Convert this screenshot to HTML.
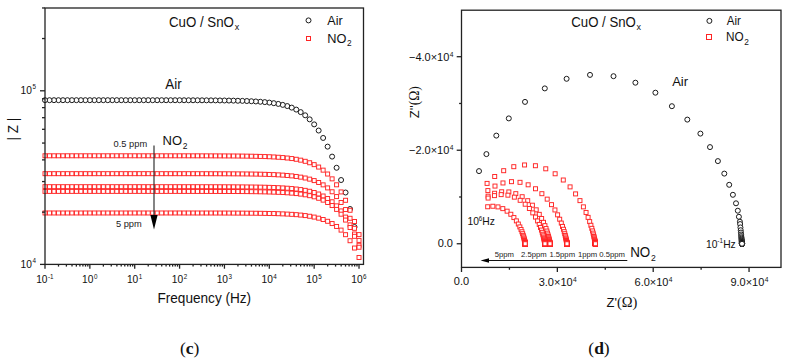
<!DOCTYPE html>
<html><head><meta charset="utf-8"><title>CuO/SnOx impedance</title>
<style>html,body{margin:0;padding:0;background:#fff;}body{width:790px;height:364px;overflow:hidden;}svg{display:block;}</style>
</head><body>
<svg width="790" height="364" viewBox="0 0 790 364">
<rect width="790" height="364" fill="#fff"/>
<g fill="#fff" stroke="#1a1a1a" stroke-width="1.0">
<circle cx="354.53" cy="227.00" r="2.5"/>
<circle cx="350.05" cy="209.00" r="2.5"/>
<circle cx="345.56" cy="192.50" r="2.5"/>
<circle cx="341.08" cy="180.03" r="2.5"/>
<circle cx="336.59" cy="167.77" r="2.5"/>
<circle cx="332.10" cy="156.60" r="2.5"/>
<circle cx="327.62" cy="146.63" r="2.5"/>
<circle cx="323.13" cy="137.94" r="2.5"/>
<circle cx="318.65" cy="130.54" r="2.5"/>
<circle cx="314.16" cy="124.38" r="2.5"/>
<circle cx="309.67" cy="119.35" r="2.5"/>
<circle cx="305.19" cy="115.31" r="2.5"/>
<circle cx="300.70" cy="112.10" r="2.5"/>
<circle cx="296.22" cy="109.58" r="2.5"/>
<circle cx="291.73" cy="107.61" r="2.5"/>
<circle cx="287.24" cy="106.06" r="2.5"/>
<circle cx="282.76" cy="104.86" r="2.5"/>
<circle cx="278.27" cy="103.91" r="2.5"/>
<circle cx="273.79" cy="103.17" r="2.5"/>
<circle cx="269.30" cy="102.59" r="2.5"/>
<circle cx="264.81" cy="102.12" r="2.5"/>
<circle cx="260.33" cy="101.75" r="2.5"/>
<circle cx="255.84" cy="101.46" r="2.5"/>
<circle cx="251.36" cy="101.22" r="2.5"/>
<circle cx="246.87" cy="101.03" r="2.5"/>
<circle cx="242.38" cy="100.87" r="2.5"/>
<circle cx="237.90" cy="100.75" r="2.5"/>
<circle cx="233.41" cy="100.64" r="2.5"/>
<circle cx="228.93" cy="100.56" r="2.5"/>
<circle cx="224.44" cy="100.49" r="2.5"/>
<circle cx="219.95" cy="100.44" r="2.5"/>
<circle cx="215.47" cy="100.39" r="2.5"/>
<circle cx="210.98" cy="100.35" r="2.5"/>
<circle cx="206.50" cy="100.32" r="2.5"/>
<circle cx="202.01" cy="100.30" r="2.5"/>
<circle cx="197.52" cy="100.28" r="2.5"/>
<circle cx="193.04" cy="100.26" r="2.5"/>
<circle cx="188.55" cy="100.25" r="2.5"/>
<circle cx="184.07" cy="100.24" r="2.5"/>
<circle cx="179.58" cy="100.23" r="2.5"/>
<circle cx="175.09" cy="100.22" r="2.5"/>
<circle cx="170.61" cy="100.21" r="2.5"/>
<circle cx="166.12" cy="100.21" r="2.5"/>
<circle cx="161.64" cy="100.20" r="2.5"/>
<circle cx="157.15" cy="100.20" r="2.5"/>
<circle cx="152.66" cy="100.20" r="2.5"/>
<circle cx="148.18" cy="100.19" r="2.5"/>
<circle cx="143.69" cy="100.19" r="2.5"/>
<circle cx="139.21" cy="100.19" r="2.5"/>
<circle cx="134.72" cy="100.19" r="2.5"/>
<circle cx="130.23" cy="100.19" r="2.5"/>
<circle cx="125.75" cy="100.19" r="2.5"/>
<circle cx="121.26" cy="100.18" r="2.5"/>
<circle cx="116.78" cy="100.18" r="2.5"/>
<circle cx="112.29" cy="100.18" r="2.5"/>
<circle cx="107.80" cy="100.18" r="2.5"/>
<circle cx="103.32" cy="100.18" r="2.5"/>
<circle cx="98.83" cy="100.18" r="2.5"/>
<circle cx="94.35" cy="100.18" r="2.5"/>
<circle cx="89.86" cy="100.18" r="2.5"/>
<circle cx="85.37" cy="100.18" r="2.5"/>
<circle cx="80.89" cy="100.18" r="2.5"/>
<circle cx="76.40" cy="100.18" r="2.5"/>
<circle cx="71.92" cy="100.18" r="2.5"/>
<circle cx="67.43" cy="100.18" r="2.5"/>
<circle cx="62.94" cy="100.18" r="2.5"/>
<circle cx="58.46" cy="100.18" r="2.5"/>
<circle cx="53.97" cy="100.18" r="2.5"/>
<circle cx="49.49" cy="100.18" r="2.5"/>
<circle cx="45.00" cy="100.18" r="2.5"/>
</g>
<g fill="#fff" stroke="#ff2424" stroke-width="0.95">
<rect x="357.02" y="232.61" width="4.0" height="4.0"/>
<rect x="352.53" y="219.48" width="4.0" height="4.0"/>
<rect x="348.05" y="208.27" width="4.0" height="4.0"/>
<rect x="343.56" y="198.29" width="4.0" height="4.0"/>
<rect x="339.08" y="189.93" width="4.0" height="4.0"/>
<rect x="334.59" y="182.80" width="4.0" height="4.0"/>
<rect x="330.10" y="176.86" width="4.0" height="4.0"/>
<rect x="325.62" y="172.02" width="4.0" height="4.0"/>
<rect x="321.13" y="168.14" width="4.0" height="4.0"/>
<rect x="316.65" y="165.06" width="4.0" height="4.0"/>
<rect x="312.16" y="162.65" width="4.0" height="4.0"/>
<rect x="307.67" y="160.76" width="4.0" height="4.0"/>
<rect x="303.19" y="159.30" width="4.0" height="4.0"/>
<rect x="298.70" y="158.16" width="4.0" height="4.0"/>
<rect x="294.22" y="157.27" width="4.0" height="4.0"/>
<rect x="289.73" y="156.57" width="4.0" height="4.0"/>
<rect x="285.24" y="156.02" width="4.0" height="4.0"/>
<rect x="280.76" y="155.58" width="4.0" height="4.0"/>
<rect x="276.27" y="155.24" width="4.0" height="4.0"/>
<rect x="271.79" y="154.96" width="4.0" height="4.0"/>
<rect x="267.30" y="154.74" width="4.0" height="4.0"/>
<rect x="262.81" y="154.57" width="4.0" height="4.0"/>
<rect x="258.33" y="154.42" width="4.0" height="4.0"/>
<rect x="253.84" y="154.31" width="4.0" height="4.0"/>
<rect x="249.36" y="154.21" width="4.0" height="4.0"/>
<rect x="244.87" y="154.14" width="4.0" height="4.0"/>
<rect x="240.38" y="154.08" width="4.0" height="4.0"/>
<rect x="235.90" y="154.02" width="4.0" height="4.0"/>
<rect x="231.41" y="153.98" width="4.0" height="4.0"/>
<rect x="226.93" y="153.95" width="4.0" height="4.0"/>
<rect x="222.44" y="153.92" width="4.0" height="4.0"/>
<rect x="217.95" y="153.90" width="4.0" height="4.0"/>
<rect x="213.47" y="153.88" width="4.0" height="4.0"/>
<rect x="208.98" y="153.86" width="4.0" height="4.0"/>
<rect x="204.50" y="153.85" width="4.0" height="4.0"/>
<rect x="200.01" y="153.84" width="4.0" height="4.0"/>
<rect x="195.52" y="153.83" width="4.0" height="4.0"/>
<rect x="191.04" y="153.83" width="4.0" height="4.0"/>
<rect x="186.55" y="153.82" width="4.0" height="4.0"/>
<rect x="182.07" y="153.81" width="4.0" height="4.0"/>
<rect x="177.58" y="153.81" width="4.0" height="4.0"/>
<rect x="173.09" y="153.81" width="4.0" height="4.0"/>
<rect x="168.61" y="153.80" width="4.0" height="4.0"/>
<rect x="164.12" y="153.80" width="4.0" height="4.0"/>
<rect x="159.64" y="153.80" width="4.0" height="4.0"/>
<rect x="155.15" y="153.80" width="4.0" height="4.0"/>
<rect x="150.66" y="153.80" width="4.0" height="4.0"/>
<rect x="146.18" y="153.80" width="4.0" height="4.0"/>
<rect x="141.69" y="153.80" width="4.0" height="4.0"/>
<rect x="137.21" y="153.80" width="4.0" height="4.0"/>
<rect x="132.72" y="153.79" width="4.0" height="4.0"/>
<rect x="128.23" y="153.79" width="4.0" height="4.0"/>
<rect x="123.75" y="153.79" width="4.0" height="4.0"/>
<rect x="119.26" y="153.79" width="4.0" height="4.0"/>
<rect x="114.78" y="153.79" width="4.0" height="4.0"/>
<rect x="110.29" y="153.79" width="4.0" height="4.0"/>
<rect x="105.80" y="153.79" width="4.0" height="4.0"/>
<rect x="101.32" y="153.79" width="4.0" height="4.0"/>
<rect x="96.83" y="153.79" width="4.0" height="4.0"/>
<rect x="92.35" y="153.79" width="4.0" height="4.0"/>
<rect x="87.86" y="153.79" width="4.0" height="4.0"/>
<rect x="83.37" y="153.79" width="4.0" height="4.0"/>
<rect x="78.89" y="153.79" width="4.0" height="4.0"/>
<rect x="74.40" y="153.79" width="4.0" height="4.0"/>
<rect x="69.92" y="153.79" width="4.0" height="4.0"/>
<rect x="65.43" y="153.79" width="4.0" height="4.0"/>
<rect x="60.94" y="153.79" width="4.0" height="4.0"/>
<rect x="56.46" y="153.79" width="4.0" height="4.0"/>
<rect x="51.97" y="153.79" width="4.0" height="4.0"/>
<rect x="47.49" y="153.79" width="4.0" height="4.0"/>
<rect x="43.00" y="153.79" width="4.0" height="4.0"/>
<rect x="357.02" y="238.40" width="4.0" height="4.0"/>
<rect x="352.53" y="226.32" width="4.0" height="4.0"/>
<rect x="348.05" y="216.28" width="4.0" height="4.0"/>
<rect x="343.56" y="207.56" width="4.0" height="4.0"/>
<rect x="339.08" y="200.48" width="4.0" height="4.0"/>
<rect x="334.59" y="194.58" width="4.0" height="4.0"/>
<rect x="330.10" y="189.77" width="4.0" height="4.0"/>
<rect x="325.62" y="185.91" width="4.0" height="4.0"/>
<rect x="321.13" y="182.86" width="4.0" height="4.0"/>
<rect x="316.65" y="180.47" width="4.0" height="4.0"/>
<rect x="312.16" y="178.60" width="4.0" height="4.0"/>
<rect x="307.67" y="177.14" width="4.0" height="4.0"/>
<rect x="303.19" y="176.01" width="4.0" height="4.0"/>
<rect x="298.70" y="175.13" width="4.0" height="4.0"/>
<rect x="294.22" y="174.44" width="4.0" height="4.0"/>
<rect x="289.73" y="173.89" width="4.0" height="4.0"/>
<rect x="285.24" y="173.46" width="4.0" height="4.0"/>
<rect x="280.76" y="173.12" width="4.0" height="4.0"/>
<rect x="276.27" y="172.85" width="4.0" height="4.0"/>
<rect x="271.79" y="172.63" width="4.0" height="4.0"/>
<rect x="267.30" y="172.45" width="4.0" height="4.0"/>
<rect x="262.81" y="172.31" width="4.0" height="4.0"/>
<rect x="258.33" y="172.19" width="4.0" height="4.0"/>
<rect x="253.84" y="172.10" width="4.0" height="4.0"/>
<rect x="249.36" y="172.02" width="4.0" height="4.0"/>
<rect x="244.87" y="171.96" width="4.0" height="4.0"/>
<rect x="240.38" y="171.91" width="4.0" height="4.0"/>
<rect x="235.90" y="171.87" width="4.0" height="4.0"/>
<rect x="231.41" y="171.84" width="4.0" height="4.0"/>
<rect x="226.93" y="171.81" width="4.0" height="4.0"/>
<rect x="222.44" y="171.79" width="4.0" height="4.0"/>
<rect x="217.95" y="171.77" width="4.0" height="4.0"/>
<rect x="213.47" y="171.75" width="4.0" height="4.0"/>
<rect x="208.98" y="171.74" width="4.0" height="4.0"/>
<rect x="204.50" y="171.73" width="4.0" height="4.0"/>
<rect x="200.01" y="171.72" width="4.0" height="4.0"/>
<rect x="195.52" y="171.71" width="4.0" height="4.0"/>
<rect x="191.04" y="171.71" width="4.0" height="4.0"/>
<rect x="186.55" y="171.70" width="4.0" height="4.0"/>
<rect x="182.07" y="171.70" width="4.0" height="4.0"/>
<rect x="177.58" y="171.70" width="4.0" height="4.0"/>
<rect x="173.09" y="171.69" width="4.0" height="4.0"/>
<rect x="168.61" y="171.69" width="4.0" height="4.0"/>
<rect x="164.12" y="171.69" width="4.0" height="4.0"/>
<rect x="159.64" y="171.69" width="4.0" height="4.0"/>
<rect x="155.15" y="171.69" width="4.0" height="4.0"/>
<rect x="150.66" y="171.69" width="4.0" height="4.0"/>
<rect x="146.18" y="171.68" width="4.0" height="4.0"/>
<rect x="141.69" y="171.68" width="4.0" height="4.0"/>
<rect x="137.21" y="171.68" width="4.0" height="4.0"/>
<rect x="132.72" y="171.68" width="4.0" height="4.0"/>
<rect x="128.23" y="171.68" width="4.0" height="4.0"/>
<rect x="123.75" y="171.68" width="4.0" height="4.0"/>
<rect x="119.26" y="171.68" width="4.0" height="4.0"/>
<rect x="114.78" y="171.68" width="4.0" height="4.0"/>
<rect x="110.29" y="171.68" width="4.0" height="4.0"/>
<rect x="105.80" y="171.68" width="4.0" height="4.0"/>
<rect x="101.32" y="171.68" width="4.0" height="4.0"/>
<rect x="96.83" y="171.68" width="4.0" height="4.0"/>
<rect x="92.35" y="171.68" width="4.0" height="4.0"/>
<rect x="87.86" y="171.68" width="4.0" height="4.0"/>
<rect x="83.37" y="171.68" width="4.0" height="4.0"/>
<rect x="78.89" y="171.68" width="4.0" height="4.0"/>
<rect x="74.40" y="171.68" width="4.0" height="4.0"/>
<rect x="69.92" y="171.68" width="4.0" height="4.0"/>
<rect x="65.43" y="171.68" width="4.0" height="4.0"/>
<rect x="60.94" y="171.68" width="4.0" height="4.0"/>
<rect x="56.46" y="171.68" width="4.0" height="4.0"/>
<rect x="51.97" y="171.68" width="4.0" height="4.0"/>
<rect x="47.49" y="171.68" width="4.0" height="4.0"/>
<rect x="43.00" y="171.68" width="4.0" height="4.0"/>
<rect x="357.02" y="243.24" width="4.0" height="4.0"/>
<rect x="352.53" y="232.01" width="4.0" height="4.0"/>
<rect x="348.05" y="222.89" width="4.0" height="4.0"/>
<rect x="343.56" y="215.10" width="4.0" height="4.0"/>
<rect x="339.08" y="208.92" width="4.0" height="4.0"/>
<rect x="334.59" y="203.86" width="4.0" height="4.0"/>
<rect x="330.10" y="199.78" width="4.0" height="4.0"/>
<rect x="325.62" y="196.55" width="4.0" height="4.0"/>
<rect x="321.13" y="194.01" width="4.0" height="4.0"/>
<rect x="316.65" y="192.02" width="4.0" height="4.0"/>
<rect x="312.16" y="190.48" width="4.0" height="4.0"/>
<rect x="307.67" y="189.27" width="4.0" height="4.0"/>
<rect x="303.19" y="188.34" width="4.0" height="4.0"/>
<rect x="298.70" y="187.60" width="4.0" height="4.0"/>
<rect x="294.22" y="187.02" width="4.0" height="4.0"/>
<rect x="289.73" y="186.57" width="4.0" height="4.0"/>
<rect x="285.24" y="186.21" width="4.0" height="4.0"/>
<rect x="280.76" y="185.92" width="4.0" height="4.0"/>
<rect x="276.27" y="185.69" width="4.0" height="4.0"/>
<rect x="271.79" y="185.50" width="4.0" height="4.0"/>
<rect x="267.30" y="185.35" width="4.0" height="4.0"/>
<rect x="262.81" y="185.23" width="4.0" height="4.0"/>
<rect x="258.33" y="185.13" width="4.0" height="4.0"/>
<rect x="253.84" y="185.05" width="4.0" height="4.0"/>
<rect x="249.36" y="184.99" width="4.0" height="4.0"/>
<rect x="244.87" y="184.94" width="4.0" height="4.0"/>
<rect x="240.38" y="184.89" width="4.0" height="4.0"/>
<rect x="235.90" y="184.86" width="4.0" height="4.0"/>
<rect x="231.41" y="184.83" width="4.0" height="4.0"/>
<rect x="226.93" y="184.80" width="4.0" height="4.0"/>
<rect x="222.44" y="184.78" width="4.0" height="4.0"/>
<rect x="217.95" y="184.77" width="4.0" height="4.0"/>
<rect x="213.47" y="184.75" width="4.0" height="4.0"/>
<rect x="208.98" y="184.74" width="4.0" height="4.0"/>
<rect x="204.50" y="184.73" width="4.0" height="4.0"/>
<rect x="200.01" y="184.73" width="4.0" height="4.0"/>
<rect x="195.52" y="184.72" width="4.0" height="4.0"/>
<rect x="191.04" y="184.72" width="4.0" height="4.0"/>
<rect x="186.55" y="184.71" width="4.0" height="4.0"/>
<rect x="182.07" y="184.71" width="4.0" height="4.0"/>
<rect x="177.58" y="184.71" width="4.0" height="4.0"/>
<rect x="173.09" y="184.70" width="4.0" height="4.0"/>
<rect x="168.61" y="184.70" width="4.0" height="4.0"/>
<rect x="164.12" y="184.70" width="4.0" height="4.0"/>
<rect x="159.64" y="184.70" width="4.0" height="4.0"/>
<rect x="155.15" y="184.70" width="4.0" height="4.0"/>
<rect x="150.66" y="184.70" width="4.0" height="4.0"/>
<rect x="146.18" y="184.70" width="4.0" height="4.0"/>
<rect x="141.69" y="184.70" width="4.0" height="4.0"/>
<rect x="137.21" y="184.69" width="4.0" height="4.0"/>
<rect x="132.72" y="184.69" width="4.0" height="4.0"/>
<rect x="128.23" y="184.69" width="4.0" height="4.0"/>
<rect x="123.75" y="184.69" width="4.0" height="4.0"/>
<rect x="119.26" y="184.69" width="4.0" height="4.0"/>
<rect x="114.78" y="184.69" width="4.0" height="4.0"/>
<rect x="110.29" y="184.69" width="4.0" height="4.0"/>
<rect x="105.80" y="184.69" width="4.0" height="4.0"/>
<rect x="101.32" y="184.69" width="4.0" height="4.0"/>
<rect x="96.83" y="184.69" width="4.0" height="4.0"/>
<rect x="92.35" y="184.69" width="4.0" height="4.0"/>
<rect x="87.86" y="184.69" width="4.0" height="4.0"/>
<rect x="83.37" y="184.69" width="4.0" height="4.0"/>
<rect x="78.89" y="184.69" width="4.0" height="4.0"/>
<rect x="74.40" y="184.69" width="4.0" height="4.0"/>
<rect x="69.92" y="184.69" width="4.0" height="4.0"/>
<rect x="65.43" y="184.69" width="4.0" height="4.0"/>
<rect x="60.94" y="184.69" width="4.0" height="4.0"/>
<rect x="56.46" y="184.69" width="4.0" height="4.0"/>
<rect x="51.97" y="184.69" width="4.0" height="4.0"/>
<rect x="47.49" y="184.69" width="4.0" height="4.0"/>
<rect x="43.00" y="184.69" width="4.0" height="4.0"/>
<rect x="357.02" y="245.24" width="4.0" height="4.0"/>
<rect x="352.53" y="234.32" width="4.0" height="4.0"/>
<rect x="348.05" y="225.53" width="4.0" height="4.0"/>
<rect x="343.56" y="218.06" width="4.0" height="4.0"/>
<rect x="339.08" y="212.18" width="4.0" height="4.0"/>
<rect x="334.59" y="207.39" width="4.0" height="4.0"/>
<rect x="330.10" y="203.55" width="4.0" height="4.0"/>
<rect x="325.62" y="200.51" width="4.0" height="4.0"/>
<rect x="321.13" y="198.13" width="4.0" height="4.0"/>
<rect x="316.65" y="196.27" width="4.0" height="4.0"/>
<rect x="312.16" y="194.82" width="4.0" height="4.0"/>
<rect x="307.67" y="193.69" width="4.0" height="4.0"/>
<rect x="303.19" y="192.81" width="4.0" height="4.0"/>
<rect x="298.70" y="192.12" width="4.0" height="4.0"/>
<rect x="294.22" y="191.58" width="4.0" height="4.0"/>
<rect x="289.73" y="191.15" width="4.0" height="4.0"/>
<rect x="285.24" y="190.81" width="4.0" height="4.0"/>
<rect x="280.76" y="190.54" width="4.0" height="4.0"/>
<rect x="276.27" y="190.32" width="4.0" height="4.0"/>
<rect x="271.79" y="190.15" width="4.0" height="4.0"/>
<rect x="267.30" y="190.01" width="4.0" height="4.0"/>
<rect x="262.81" y="189.89" width="4.0" height="4.0"/>
<rect x="258.33" y="189.80" width="4.0" height="4.0"/>
<rect x="253.84" y="189.72" width="4.0" height="4.0"/>
<rect x="249.36" y="189.66" width="4.0" height="4.0"/>
<rect x="244.87" y="189.61" width="4.0" height="4.0"/>
<rect x="240.38" y="189.57" width="4.0" height="4.0"/>
<rect x="235.90" y="189.54" width="4.0" height="4.0"/>
<rect x="231.41" y="189.51" width="4.0" height="4.0"/>
<rect x="226.93" y="189.49" width="4.0" height="4.0"/>
<rect x="222.44" y="189.47" width="4.0" height="4.0"/>
<rect x="217.95" y="189.45" width="4.0" height="4.0"/>
<rect x="213.47" y="189.44" width="4.0" height="4.0"/>
<rect x="208.98" y="189.43" width="4.0" height="4.0"/>
<rect x="204.50" y="189.42" width="4.0" height="4.0"/>
<rect x="200.01" y="189.41" width="4.0" height="4.0"/>
<rect x="195.52" y="189.41" width="4.0" height="4.0"/>
<rect x="191.04" y="189.40" width="4.0" height="4.0"/>
<rect x="186.55" y="189.40" width="4.0" height="4.0"/>
<rect x="182.07" y="189.40" width="4.0" height="4.0"/>
<rect x="177.58" y="189.39" width="4.0" height="4.0"/>
<rect x="173.09" y="189.39" width="4.0" height="4.0"/>
<rect x="168.61" y="189.39" width="4.0" height="4.0"/>
<rect x="164.12" y="189.39" width="4.0" height="4.0"/>
<rect x="159.64" y="189.39" width="4.0" height="4.0"/>
<rect x="155.15" y="189.39" width="4.0" height="4.0"/>
<rect x="150.66" y="189.38" width="4.0" height="4.0"/>
<rect x="146.18" y="189.38" width="4.0" height="4.0"/>
<rect x="141.69" y="189.38" width="4.0" height="4.0"/>
<rect x="137.21" y="189.38" width="4.0" height="4.0"/>
<rect x="132.72" y="189.38" width="4.0" height="4.0"/>
<rect x="128.23" y="189.38" width="4.0" height="4.0"/>
<rect x="123.75" y="189.38" width="4.0" height="4.0"/>
<rect x="119.26" y="189.38" width="4.0" height="4.0"/>
<rect x="114.78" y="189.38" width="4.0" height="4.0"/>
<rect x="110.29" y="189.38" width="4.0" height="4.0"/>
<rect x="105.80" y="189.38" width="4.0" height="4.0"/>
<rect x="101.32" y="189.38" width="4.0" height="4.0"/>
<rect x="96.83" y="189.38" width="4.0" height="4.0"/>
<rect x="92.35" y="189.38" width="4.0" height="4.0"/>
<rect x="87.86" y="189.38" width="4.0" height="4.0"/>
<rect x="83.37" y="189.38" width="4.0" height="4.0"/>
<rect x="78.89" y="189.38" width="4.0" height="4.0"/>
<rect x="74.40" y="189.38" width="4.0" height="4.0"/>
<rect x="69.92" y="189.38" width="4.0" height="4.0"/>
<rect x="65.43" y="189.38" width="4.0" height="4.0"/>
<rect x="60.94" y="189.38" width="4.0" height="4.0"/>
<rect x="56.46" y="189.38" width="4.0" height="4.0"/>
<rect x="51.97" y="189.38" width="4.0" height="4.0"/>
<rect x="47.49" y="189.38" width="4.0" height="4.0"/>
<rect x="43.00" y="189.38" width="4.0" height="4.0"/>
<rect x="357.02" y="255.48" width="4.0" height="4.0"/>
<rect x="352.53" y="246.04" width="4.0" height="4.0"/>
<rect x="348.05" y="238.73" width="4.0" height="4.0"/>
<rect x="343.56" y="232.69" width="4.0" height="4.0"/>
<rect x="339.08" y="228.11" width="4.0" height="4.0"/>
<rect x="334.59" y="224.45" width="4.0" height="4.0"/>
<rect x="330.10" y="221.56" width="4.0" height="4.0"/>
<rect x="325.62" y="219.29" width="4.0" height="4.0"/>
<rect x="321.13" y="217.53" width="4.0" height="4.0"/>
<rect x="316.65" y="216.16" width="4.0" height="4.0"/>
<rect x="312.16" y="215.09" width="4.0" height="4.0"/>
<rect x="307.67" y="214.25" width="4.0" height="4.0"/>
<rect x="303.19" y="213.59" width="4.0" height="4.0"/>
<rect x="298.70" y="213.08" width="4.0" height="4.0"/>
<rect x="294.22" y="212.67" width="4.0" height="4.0"/>
<rect x="289.73" y="212.34" width="4.0" height="4.0"/>
<rect x="285.24" y="212.09" width="4.0" height="4.0"/>
<rect x="280.76" y="211.88" width="4.0" height="4.0"/>
<rect x="276.27" y="211.71" width="4.0" height="4.0"/>
<rect x="271.79" y="211.57" width="4.0" height="4.0"/>
<rect x="267.30" y="211.47" width="4.0" height="4.0"/>
<rect x="262.81" y="211.38" width="4.0" height="4.0"/>
<rect x="258.33" y="211.30" width="4.0" height="4.0"/>
<rect x="253.84" y="211.24" width="4.0" height="4.0"/>
<rect x="249.36" y="211.20" width="4.0" height="4.0"/>
<rect x="244.87" y="211.16" width="4.0" height="4.0"/>
<rect x="240.38" y="211.12" width="4.0" height="4.0"/>
<rect x="235.90" y="211.10" width="4.0" height="4.0"/>
<rect x="231.41" y="211.08" width="4.0" height="4.0"/>
<rect x="226.93" y="211.06" width="4.0" height="4.0"/>
<rect x="222.44" y="211.04" width="4.0" height="4.0"/>
<rect x="217.95" y="211.03" width="4.0" height="4.0"/>
<rect x="213.47" y="211.02" width="4.0" height="4.0"/>
<rect x="208.98" y="211.01" width="4.0" height="4.0"/>
<rect x="204.50" y="211.01" width="4.0" height="4.0"/>
<rect x="200.01" y="211.00" width="4.0" height="4.0"/>
<rect x="195.52" y="211.00" width="4.0" height="4.0"/>
<rect x="191.04" y="210.99" width="4.0" height="4.0"/>
<rect x="186.55" y="210.99" width="4.0" height="4.0"/>
<rect x="182.07" y="210.99" width="4.0" height="4.0"/>
<rect x="177.58" y="210.98" width="4.0" height="4.0"/>
<rect x="173.09" y="210.98" width="4.0" height="4.0"/>
<rect x="168.61" y="210.98" width="4.0" height="4.0"/>
<rect x="164.12" y="210.98" width="4.0" height="4.0"/>
<rect x="159.64" y="210.98" width="4.0" height="4.0"/>
<rect x="155.15" y="210.98" width="4.0" height="4.0"/>
<rect x="150.66" y="210.98" width="4.0" height="4.0"/>
<rect x="146.18" y="210.98" width="4.0" height="4.0"/>
<rect x="141.69" y="210.98" width="4.0" height="4.0"/>
<rect x="137.21" y="210.98" width="4.0" height="4.0"/>
<rect x="132.72" y="210.98" width="4.0" height="4.0"/>
<rect x="128.23" y="210.98" width="4.0" height="4.0"/>
<rect x="123.75" y="210.98" width="4.0" height="4.0"/>
<rect x="119.26" y="210.98" width="4.0" height="4.0"/>
<rect x="114.78" y="210.98" width="4.0" height="4.0"/>
<rect x="110.29" y="210.98" width="4.0" height="4.0"/>
<rect x="105.80" y="210.98" width="4.0" height="4.0"/>
<rect x="101.32" y="210.98" width="4.0" height="4.0"/>
<rect x="96.83" y="210.98" width="4.0" height="4.0"/>
<rect x="92.35" y="210.98" width="4.0" height="4.0"/>
<rect x="87.86" y="210.98" width="4.0" height="4.0"/>
<rect x="83.37" y="210.98" width="4.0" height="4.0"/>
<rect x="78.89" y="210.98" width="4.0" height="4.0"/>
<rect x="74.40" y="210.98" width="4.0" height="4.0"/>
<rect x="69.92" y="210.98" width="4.0" height="4.0"/>
<rect x="65.43" y="210.98" width="4.0" height="4.0"/>
<rect x="60.94" y="210.98" width="4.0" height="4.0"/>
<rect x="56.46" y="210.98" width="4.0" height="4.0"/>
<rect x="51.97" y="210.98" width="4.0" height="4.0"/>
<rect x="47.49" y="210.98" width="4.0" height="4.0"/>
<rect x="43.00" y="210.98" width="4.0" height="4.0"/>
</g>
<g stroke="#222" stroke-width="1.3" fill="none">
<rect x="45.0" y="8.0" width="318.5" height="256.4"/>
<line x1="45.00" y1="264.4" x2="45.00" y2="268.70"/>
<line x1="58.50" y1="264.4" x2="58.50" y2="266.60"/>
<line x1="66.40" y1="264.4" x2="66.40" y2="266.60"/>
<line x1="72.01" y1="264.4" x2="72.01" y2="266.60"/>
<line x1="76.36" y1="264.4" x2="76.36" y2="266.60"/>
<line x1="79.91" y1="264.4" x2="79.91" y2="266.60"/>
<line x1="82.91" y1="264.4" x2="82.91" y2="266.60"/>
<line x1="85.51" y1="264.4" x2="85.51" y2="266.60"/>
<line x1="87.81" y1="264.4" x2="87.81" y2="266.60"/>
<line x1="89.86" y1="264.4" x2="89.86" y2="268.70"/>
<line x1="103.36" y1="264.4" x2="103.36" y2="266.60"/>
<line x1="111.26" y1="264.4" x2="111.26" y2="266.60"/>
<line x1="116.87" y1="264.4" x2="116.87" y2="266.60"/>
<line x1="121.22" y1="264.4" x2="121.22" y2="266.60"/>
<line x1="124.77" y1="264.4" x2="124.77" y2="266.60"/>
<line x1="127.77" y1="264.4" x2="127.77" y2="266.60"/>
<line x1="130.37" y1="264.4" x2="130.37" y2="266.60"/>
<line x1="132.67" y1="264.4" x2="132.67" y2="266.60"/>
<line x1="134.72" y1="264.4" x2="134.72" y2="268.70"/>
<line x1="148.22" y1="264.4" x2="148.22" y2="266.60"/>
<line x1="156.12" y1="264.4" x2="156.12" y2="266.60"/>
<line x1="161.73" y1="264.4" x2="161.73" y2="266.60"/>
<line x1="166.08" y1="264.4" x2="166.08" y2="266.60"/>
<line x1="169.63" y1="264.4" x2="169.63" y2="266.60"/>
<line x1="172.63" y1="264.4" x2="172.63" y2="266.60"/>
<line x1="175.23" y1="264.4" x2="175.23" y2="266.60"/>
<line x1="177.53" y1="264.4" x2="177.53" y2="266.60"/>
<line x1="179.58" y1="264.4" x2="179.58" y2="268.70"/>
<line x1="193.08" y1="264.4" x2="193.08" y2="266.60"/>
<line x1="200.98" y1="264.4" x2="200.98" y2="266.60"/>
<line x1="206.59" y1="264.4" x2="206.59" y2="266.60"/>
<line x1="210.94" y1="264.4" x2="210.94" y2="266.60"/>
<line x1="214.49" y1="264.4" x2="214.49" y2="266.60"/>
<line x1="217.49" y1="264.4" x2="217.49" y2="266.60"/>
<line x1="220.09" y1="264.4" x2="220.09" y2="266.60"/>
<line x1="222.39" y1="264.4" x2="222.39" y2="266.60"/>
<line x1="224.44" y1="264.4" x2="224.44" y2="268.70"/>
<line x1="237.94" y1="264.4" x2="237.94" y2="266.60"/>
<line x1="245.84" y1="264.4" x2="245.84" y2="266.60"/>
<line x1="251.45" y1="264.4" x2="251.45" y2="266.60"/>
<line x1="255.80" y1="264.4" x2="255.80" y2="266.60"/>
<line x1="259.35" y1="264.4" x2="259.35" y2="266.60"/>
<line x1="262.35" y1="264.4" x2="262.35" y2="266.60"/>
<line x1="264.95" y1="264.4" x2="264.95" y2="266.60"/>
<line x1="267.25" y1="264.4" x2="267.25" y2="266.60"/>
<line x1="269.30" y1="264.4" x2="269.30" y2="268.70"/>
<line x1="282.80" y1="264.4" x2="282.80" y2="266.60"/>
<line x1="290.70" y1="264.4" x2="290.70" y2="266.60"/>
<line x1="296.31" y1="264.4" x2="296.31" y2="266.60"/>
<line x1="300.66" y1="264.4" x2="300.66" y2="266.60"/>
<line x1="304.21" y1="264.4" x2="304.21" y2="266.60"/>
<line x1="307.21" y1="264.4" x2="307.21" y2="266.60"/>
<line x1="309.81" y1="264.4" x2="309.81" y2="266.60"/>
<line x1="312.11" y1="264.4" x2="312.11" y2="266.60"/>
<line x1="314.16" y1="264.4" x2="314.16" y2="268.70"/>
<line x1="327.66" y1="264.4" x2="327.66" y2="266.60"/>
<line x1="335.56" y1="264.4" x2="335.56" y2="266.60"/>
<line x1="341.17" y1="264.4" x2="341.17" y2="266.60"/>
<line x1="345.52" y1="264.4" x2="345.52" y2="266.60"/>
<line x1="349.07" y1="264.4" x2="349.07" y2="266.60"/>
<line x1="352.07" y1="264.4" x2="352.07" y2="266.60"/>
<line x1="354.67" y1="264.4" x2="354.67" y2="266.60"/>
<line x1="356.97" y1="264.4" x2="356.97" y2="266.60"/>
<line x1="359.02" y1="264.4" x2="359.02" y2="268.70"/>
<line x1="40.00" y1="264.40" x2="45.0" y2="264.40"/>
<line x1="42.00" y1="212.14" x2="45.0" y2="212.14"/>
<line x1="42.00" y1="181.57" x2="45.0" y2="181.57"/>
<line x1="42.00" y1="159.88" x2="45.0" y2="159.88"/>
<line x1="42.00" y1="143.06" x2="45.0" y2="143.06"/>
<line x1="42.00" y1="129.31" x2="45.0" y2="129.31"/>
<line x1="42.00" y1="117.69" x2="45.0" y2="117.69"/>
<line x1="42.00" y1="107.62" x2="45.0" y2="107.62"/>
<line x1="42.00" y1="98.74" x2="45.0" y2="98.74"/>
<line x1="40.00" y1="90.80" x2="45.0" y2="90.80"/>
<line x1="42.00" y1="38.54" x2="45.0" y2="38.54"/>
<line x1="42.00" y1="7.97" x2="45.0" y2="7.97"/>
</g>
<g font-family="Liberation Sans, sans-serif" font-size="10.2" fill="#111" text-anchor="middle">
<text x="44.90" y="282.8" transform="matrix(1 0 0 1.04 0 -11.312)">10<tspan font-size="6.3" dx="0.5" dy="-4.0">-1</tspan></text>
<text x="89.76" y="282.8" transform="matrix(1 0 0 1.04 0 -11.312)">10<tspan font-size="6.3" dx="0.5" dy="-4.0">0</tspan></text>
<text x="134.62" y="282.8" transform="matrix(1 0 0 1.04 0 -11.312)">10<tspan font-size="6.3" dx="0.5" dy="-4.0">1</tspan></text>
<text x="179.48" y="282.8" transform="matrix(1 0 0 1.04 0 -11.312)">10<tspan font-size="6.3" dx="0.5" dy="-4.0">2</tspan></text>
<text x="224.34" y="282.8" transform="matrix(1 0 0 1.04 0 -11.312)">10<tspan font-size="6.3" dx="0.5" dy="-4.0">3</tspan></text>
<text x="269.20" y="282.8" transform="matrix(1 0 0 1.04 0 -11.312)">10<tspan font-size="6.3" dx="0.5" dy="-4.0">4</tspan></text>
<text x="314.06" y="282.8" transform="matrix(1 0 0 1.04 0 -11.312)">10<tspan font-size="6.3" dx="0.5" dy="-4.0">5</tspan></text>
<text x="358.92" y="282.8" transform="matrix(1 0 0 1.04 0 -11.312)">10<tspan font-size="6.3" dx="0.5" dy="-4.0">6</tspan></text>
</g>
<g font-family="Liberation Sans, sans-serif" font-size="10.2" fill="#111" text-anchor="end">
<text x="36.0" y="268.10" transform="matrix(1 0 0 1.04 0 -10.724)">10<tspan font-size="6.3" dx="0.6" dy="-4.8">4</tspan></text>
<text x="36.0" y="94.50" transform="matrix(1 0 0 1.04 0 -3.780)">10<tspan font-size="6.3" dx="0.6" dy="-4.8">5</tspan></text>
</g>
<text font-family="Liberation Sans, sans-serif" font-size="13.6" fill="#111" x="204.3" y="302.8" text-anchor="middle" transform="matrix(1 0 0 1.04 0 -12.112)">Frequency (Hz)</text>
<text font-family="Liberation Sans, sans-serif" font-size="13.5" fill="#111" transform="translate(17.9,129) rotate(-90) scale(1,1.04)" text-anchor="middle">| Z |</text>
<text font-family="Liberation Sans, sans-serif" font-size="13.3" fill="#111" x="169.0" y="26.6" transform="matrix(1 0 0 1.04 0 -1.064)">CuO / SnO<tspan font-size="9" dx="0.9" dy="3.2">x</tspan></text>
<g fill="none" stroke="#1a1a1a" stroke-width="1.0"><circle cx="308.50" cy="20.40" r="2.5"/></g>
<rect x="306.5" y="36.5" width="4" height="4" fill="#fff" stroke="#ff2424" stroke-width="1"/>
<text font-family="Liberation Sans, sans-serif" font-size="12.6" fill="#111" x="327.3" y="24.8" transform="matrix(1 0 0 1.04 0 -0.992)">Air</text>
<text font-family="Liberation Sans, sans-serif" font-size="12.8" fill="#111" x="327.2" y="42.6" transform="matrix(1 0 0 1.04 0 -1.704)">NO<tspan font-size="8.3" dx="0.7" dy="3.4">2</tspan></text>
<text font-family="Liberation Sans, sans-serif" font-size="13.4" fill="#111" x="165.3" y="88.6" transform="matrix(1 0 0 1.04 0 -3.544)">Air</text>
<text font-family="Liberation Sans, sans-serif" font-size="13" fill="#111" x="162.6" y="145.2" transform="matrix(1 0 0 1.04 0 -5.808)">NO<tspan font-size="8.5" dx="0.7" dy="3.4">2</tspan></text>
<text font-family="Liberation Sans, sans-serif" font-size="9.3" fill="#222" x="113.6" y="146.9" transform="matrix(1 0 0 1.04 0 -5.876)">0.5 ppm</text>
<text font-family="Liberation Sans, sans-serif" font-size="9.3" fill="#222" x="115.9" y="227.5" transform="matrix(1 0 0 1.04 0 -9.100)">5 ppm</text>
<line x1="154" y1="145.5" x2="154" y2="218" stroke="#333" stroke-width="1.2"/>
<path d="M150.4 214.9 L157.6 214.9 L154 229.4 Z" fill="#000"/>
<g fill="#fff" stroke="#1a1a1a" stroke-width="1.0">
<circle cx="479.00" cy="171.10" r="2.5"/>
<circle cx="486.40" cy="154.10" r="2.5"/>
<circle cx="496.30" cy="135.60" r="2.5"/>
<circle cx="508.80" cy="118.40" r="2.5"/>
<circle cx="525.00" cy="101.90" r="2.5"/>
<circle cx="544.80" cy="88.40" r="2.5"/>
<circle cx="566.60" cy="78.80" r="2.5"/>
<circle cx="590.00" cy="74.90" r="2.5"/>
<circle cx="613.50" cy="76.20" r="2.5"/>
<circle cx="635.40" cy="82.70" r="2.5"/>
<circle cx="655.40" cy="92.70" r="2.5"/>
<circle cx="671.90" cy="106.20" r="2.5"/>
<circle cx="687.30" cy="119.60" r="2.5"/>
<circle cx="700.40" cy="133.60" r="2.5"/>
<circle cx="710.00" cy="147.10" r="2.5"/>
<circle cx="717.90" cy="161.10" r="2.5"/>
<circle cx="724.30" cy="173.60" r="2.5"/>
<circle cx="729.20" cy="184.80" r="2.5"/>
<circle cx="732.90" cy="194.80" r="2.5"/>
<circle cx="736.00" cy="203.30" r="2.5"/>
<circle cx="737.80" cy="210.70" r="2.5"/>
<circle cx="738.90" cy="216.80" r="2.5"/>
<circle cx="739.90" cy="221.70" r="2.5"/>
<circle cx="740.12" cy="224.05" r="2.5"/>
<circle cx="740.44" cy="227.42" r="2.5"/>
<circle cx="740.71" cy="230.23" r="2.5"/>
<circle cx="740.93" cy="232.56" r="2.5"/>
<circle cx="741.12" cy="234.50" r="2.5"/>
<circle cx="741.27" cy="236.10" r="2.5"/>
<circle cx="741.40" cy="237.43" r="2.5"/>
<circle cx="741.50" cy="238.53" r="2.5"/>
<circle cx="741.59" cy="239.44" r="2.5"/>
<circle cx="741.66" cy="240.19" r="2.5"/>
<circle cx="741.72" cy="240.81" r="2.5"/>
<circle cx="741.77" cy="241.32" r="2.5"/>
<circle cx="741.81" cy="241.75" r="2.5"/>
<circle cx="741.84" cy="242.10" r="2.5"/>
<circle cx="741.87" cy="242.39" r="2.5"/>
<circle cx="741.89" cy="242.62" r="2.5"/>
<circle cx="741.91" cy="242.82" r="2.5"/>
<circle cx="741.93" cy="242.98" r="2.5"/>
<circle cx="741.94" cy="243.12" r="2.5"/>
<circle cx="741.95" cy="243.23" r="2.5"/>
<circle cx="741.96" cy="243.32" r="2.5"/>
<circle cx="741.97" cy="243.40" r="2.5"/>
<circle cx="741.97" cy="243.46" r="2.5"/>
<circle cx="741.98" cy="243.51" r="2.5"/>
<circle cx="741.98" cy="243.55" r="2.5"/>
<circle cx="741.98" cy="243.59" r="2.5"/>
<circle cx="741.99" cy="243.61" r="2.5"/>
<circle cx="741.99" cy="243.64" r="2.5"/>
<circle cx="741.99" cy="243.66" r="2.5"/>
<circle cx="741.99" cy="243.67" r="2.5"/>
<circle cx="741.99" cy="243.69" r="2.5"/>
<circle cx="742.00" cy="243.70" r="2.5"/>
<circle cx="742.00" cy="243.71" r="2.5"/>
<circle cx="742.00" cy="243.71" r="2.5"/>
<circle cx="742.00" cy="243.72" r="2.5"/>
<circle cx="742.00" cy="243.73" r="2.5"/>
<circle cx="742.00" cy="243.73" r="2.5"/>
<circle cx="742.00" cy="243.73" r="2.5"/>
<circle cx="742.00" cy="243.74" r="2.5"/>
<circle cx="742.00" cy="243.74" r="2.5"/>
<circle cx="742.00" cy="243.74" r="2.5"/>
<circle cx="742.00" cy="243.74" r="2.5"/>
<circle cx="742.00" cy="243.74" r="2.5"/>
<circle cx="742.00" cy="243.74" r="2.5"/>
<circle cx="742.00" cy="243.75" r="2.5"/>
<circle cx="742.00" cy="243.75" r="2.5"/>
<circle cx="742.00" cy="243.75" r="2.5"/>
</g>
<g fill="#fff" stroke="#ff2424" stroke-width="0.95">
<rect x="485.08" y="181.40" width="4.0" height="4.0"/>
<rect x="492.70" y="174.49" width="4.0" height="4.0"/>
<rect x="501.69" y="168.70" width="4.0" height="4.0"/>
<rect x="511.80" y="164.69" width="4.0" height="4.0"/>
<rect x="522.56" y="162.96" width="4.0" height="4.0"/>
<rect x="533.41" y="163.72" width="4.0" height="4.0"/>
<rect x="543.76" y="166.80" width="4.0" height="4.0"/>
<rect x="553.14" y="171.77" width="4.0" height="4.0"/>
<rect x="561.28" y="178.01" width="4.0" height="4.0"/>
<rect x="568.07" y="184.89" width="4.0" height="4.0"/>
<rect x="573.59" y="191.90" width="4.0" height="4.0"/>
<rect x="577.97" y="198.63" width="4.0" height="4.0"/>
<rect x="581.39" y="204.86" width="4.0" height="4.0"/>
<rect x="584.05" y="210.45" width="4.0" height="4.0"/>
<rect x="586.10" y="215.36" width="4.0" height="4.0"/>
<rect x="587.67" y="219.62" width="4.0" height="4.0"/>
<rect x="588.89" y="223.26" width="4.0" height="4.0"/>
<rect x="589.83" y="226.34" width="4.0" height="4.0"/>
<rect x="590.57" y="228.94" width="4.0" height="4.0"/>
<rect x="591.14" y="231.12" width="4.0" height="4.0"/>
<rect x="591.59" y="232.94" width="4.0" height="4.0"/>
<rect x="591.94" y="234.46" width="4.0" height="4.0"/>
<rect x="592.22" y="235.72" width="4.0" height="4.0"/>
<rect x="592.45" y="236.77" width="4.0" height="4.0"/>
<rect x="592.62" y="237.64" width="4.0" height="4.0"/>
<rect x="592.77" y="238.35" width="4.0" height="4.0"/>
<rect x="592.89" y="238.95" width="4.0" height="4.0"/>
<rect x="592.98" y="239.44" width="4.0" height="4.0"/>
<rect x="593.06" y="239.84" width="4.0" height="4.0"/>
<rect x="593.12" y="240.18" width="4.0" height="4.0"/>
<rect x="593.17" y="240.45" width="4.0" height="4.0"/>
<rect x="593.21" y="240.68" width="4.0" height="4.0"/>
<rect x="593.25" y="240.87" width="4.0" height="4.0"/>
<rect x="593.27" y="241.02" width="4.0" height="4.0"/>
<rect x="593.30" y="241.15" width="4.0" height="4.0"/>
<rect x="593.32" y="241.26" width="4.0" height="4.0"/>
<rect x="593.33" y="241.34" width="4.0" height="4.0"/>
<rect x="593.34" y="241.41" width="4.0" height="4.0"/>
<rect x="593.35" y="241.47" width="4.0" height="4.0"/>
<rect x="593.36" y="241.52" width="4.0" height="4.0"/>
<rect x="593.37" y="241.56" width="4.0" height="4.0"/>
<rect x="593.38" y="241.60" width="4.0" height="4.0"/>
<rect x="593.38" y="241.62" width="4.0" height="4.0"/>
<rect x="593.38" y="241.65" width="4.0" height="4.0"/>
<rect x="593.39" y="241.66" width="4.0" height="4.0"/>
<rect x="593.39" y="241.68" width="4.0" height="4.0"/>
<rect x="593.39" y="241.69" width="4.0" height="4.0"/>
<rect x="593.39" y="241.70" width="4.0" height="4.0"/>
<rect x="593.40" y="241.71" width="4.0" height="4.0"/>
<rect x="593.40" y="241.72" width="4.0" height="4.0"/>
<rect x="593.40" y="241.72" width="4.0" height="4.0"/>
<rect x="593.40" y="241.73" width="4.0" height="4.0"/>
<rect x="593.40" y="241.73" width="4.0" height="4.0"/>
<rect x="593.40" y="241.73" width="4.0" height="4.0"/>
<rect x="593.40" y="241.74" width="4.0" height="4.0"/>
<rect x="593.40" y="241.74" width="4.0" height="4.0"/>
<rect x="593.40" y="241.74" width="4.0" height="4.0"/>
<rect x="593.40" y="241.74" width="4.0" height="4.0"/>
<rect x="593.40" y="241.74" width="4.0" height="4.0"/>
<rect x="593.40" y="241.75" width="4.0" height="4.0"/>
<rect x="593.40" y="241.75" width="4.0" height="4.0"/>
<rect x="593.40" y="241.75" width="4.0" height="4.0"/>
<rect x="593.40" y="241.75" width="4.0" height="4.0"/>
<rect x="593.40" y="241.75" width="4.0" height="4.0"/>
<rect x="593.40" y="241.75" width="4.0" height="4.0"/>
<rect x="593.40" y="241.75" width="4.0" height="4.0"/>
<rect x="593.40" y="241.75" width="4.0" height="4.0"/>
<rect x="593.40" y="241.75" width="4.0" height="4.0"/>
<rect x="593.40" y="241.75" width="4.0" height="4.0"/>
<rect x="593.40" y="241.75" width="4.0" height="4.0"/>
<rect x="593.40" y="241.75" width="4.0" height="4.0"/>
<rect x="485.88" y="188.59" width="4.0" height="4.0"/>
<rect x="492.99" y="184.07" width="4.0" height="4.0"/>
<rect x="500.98" y="180.96" width="4.0" height="4.0"/>
<rect x="509.47" y="179.66" width="4.0" height="4.0"/>
<rect x="518.01" y="180.32" width="4.0" height="4.0"/>
<rect x="526.14" y="182.81" width="4.0" height="4.0"/>
<rect x="533.51" y="186.76" width="4.0" height="4.0"/>
<rect x="539.88" y="191.70" width="4.0" height="4.0"/>
<rect x="545.20" y="197.14" width="4.0" height="4.0"/>
<rect x="549.51" y="202.65" width="4.0" height="4.0"/>
<rect x="552.94" y="207.95" width="4.0" height="4.0"/>
<rect x="555.61" y="212.84" width="4.0" height="4.0"/>
<rect x="557.69" y="217.23" width="4.0" height="4.0"/>
<rect x="559.29" y="221.08" width="4.0" height="4.0"/>
<rect x="560.52" y="224.41" width="4.0" height="4.0"/>
<rect x="561.47" y="227.26" width="4.0" height="4.0"/>
<rect x="562.21" y="229.68" width="4.0" height="4.0"/>
<rect x="562.78" y="231.72" width="4.0" height="4.0"/>
<rect x="563.23" y="233.43" width="4.0" height="4.0"/>
<rect x="563.58" y="234.85" width="4.0" height="4.0"/>
<rect x="563.85" y="236.04" width="4.0" height="4.0"/>
<rect x="564.07" y="237.03" width="4.0" height="4.0"/>
<rect x="564.25" y="237.85" width="4.0" height="4.0"/>
<rect x="564.39" y="238.53" width="4.0" height="4.0"/>
<rect x="564.50" y="239.09" width="4.0" height="4.0"/>
<rect x="564.59" y="239.56" width="4.0" height="4.0"/>
<rect x="564.67" y="239.94" width="4.0" height="4.0"/>
<rect x="564.73" y="240.26" width="4.0" height="4.0"/>
<rect x="564.78" y="240.52" width="4.0" height="4.0"/>
<rect x="564.82" y="240.73" width="4.0" height="4.0"/>
<rect x="564.85" y="240.91" width="4.0" height="4.0"/>
<rect x="564.88" y="241.06" width="4.0" height="4.0"/>
<rect x="564.90" y="241.18" width="4.0" height="4.0"/>
<rect x="564.92" y="241.28" width="4.0" height="4.0"/>
<rect x="564.93" y="241.36" width="4.0" height="4.0"/>
<rect x="564.94" y="241.43" width="4.0" height="4.0"/>
<rect x="564.95" y="241.49" width="4.0" height="4.0"/>
<rect x="564.96" y="241.53" width="4.0" height="4.0"/>
<rect x="564.97" y="241.57" width="4.0" height="4.0"/>
<rect x="564.97" y="241.60" width="4.0" height="4.0"/>
<rect x="564.98" y="241.63" width="4.0" height="4.0"/>
<rect x="564.98" y="241.65" width="4.0" height="4.0"/>
<rect x="564.98" y="241.67" width="4.0" height="4.0"/>
<rect x="564.99" y="241.68" width="4.0" height="4.0"/>
<rect x="564.99" y="241.69" width="4.0" height="4.0"/>
<rect x="564.99" y="241.70" width="4.0" height="4.0"/>
<rect x="564.99" y="241.71" width="4.0" height="4.0"/>
<rect x="564.99" y="241.72" width="4.0" height="4.0"/>
<rect x="564.99" y="241.72" width="4.0" height="4.0"/>
<rect x="565.00" y="241.73" width="4.0" height="4.0"/>
<rect x="565.00" y="241.73" width="4.0" height="4.0"/>
<rect x="565.00" y="241.74" width="4.0" height="4.0"/>
<rect x="565.00" y="241.74" width="4.0" height="4.0"/>
<rect x="565.00" y="241.74" width="4.0" height="4.0"/>
<rect x="565.00" y="241.74" width="4.0" height="4.0"/>
<rect x="565.00" y="241.74" width="4.0" height="4.0"/>
<rect x="565.00" y="241.74" width="4.0" height="4.0"/>
<rect x="565.00" y="241.75" width="4.0" height="4.0"/>
<rect x="565.00" y="241.75" width="4.0" height="4.0"/>
<rect x="565.00" y="241.75" width="4.0" height="4.0"/>
<rect x="565.00" y="241.75" width="4.0" height="4.0"/>
<rect x="565.00" y="241.75" width="4.0" height="4.0"/>
<rect x="565.00" y="241.75" width="4.0" height="4.0"/>
<rect x="565.00" y="241.75" width="4.0" height="4.0"/>
<rect x="565.00" y="241.75" width="4.0" height="4.0"/>
<rect x="565.00" y="241.75" width="4.0" height="4.0"/>
<rect x="565.00" y="241.75" width="4.0" height="4.0"/>
<rect x="565.00" y="241.75" width="4.0" height="4.0"/>
<rect x="565.00" y="241.75" width="4.0" height="4.0"/>
<rect x="565.00" y="241.75" width="4.0" height="4.0"/>
<rect x="565.00" y="241.75" width="4.0" height="4.0"/>
<rect x="486.07" y="194.19" width="4.0" height="4.0"/>
<rect x="492.61" y="191.26" width="4.0" height="4.0"/>
<rect x="499.66" y="189.78" width="4.0" height="4.0"/>
<rect x="506.85" y="189.94" width="4.0" height="4.0"/>
<rect x="513.79" y="191.67" width="4.0" height="4.0"/>
<rect x="520.15" y="194.72" width="4.0" height="4.0"/>
<rect x="525.71" y="198.70" width="4.0" height="4.0"/>
<rect x="530.39" y="203.19" width="4.0" height="4.0"/>
<rect x="534.20" y="207.83" width="4.0" height="4.0"/>
<rect x="537.25" y="212.34" width="4.0" height="4.0"/>
<rect x="539.63" y="216.53" width="4.0" height="4.0"/>
<rect x="541.49" y="220.32" width="4.0" height="4.0"/>
<rect x="542.92" y="223.66" width="4.0" height="4.0"/>
<rect x="544.02" y="226.56" width="4.0" height="4.0"/>
<rect x="544.87" y="229.05" width="4.0" height="4.0"/>
<rect x="545.52" y="231.16" width="4.0" height="4.0"/>
<rect x="546.03" y="232.95" width="4.0" height="4.0"/>
<rect x="546.43" y="234.44" width="4.0" height="4.0"/>
<rect x="546.74" y="235.69" width="4.0" height="4.0"/>
<rect x="546.99" y="236.74" width="4.0" height="4.0"/>
<rect x="547.18" y="237.60" width="4.0" height="4.0"/>
<rect x="547.34" y="238.32" width="4.0" height="4.0"/>
<rect x="547.46" y="238.92" width="4.0" height="4.0"/>
<rect x="547.56" y="239.41" width="4.0" height="4.0"/>
<rect x="547.65" y="239.82" width="4.0" height="4.0"/>
<rect x="547.71" y="240.16" width="4.0" height="4.0"/>
<rect x="547.76" y="240.44" width="4.0" height="4.0"/>
<rect x="547.81" y="240.67" width="4.0" height="4.0"/>
<rect x="547.84" y="240.86" width="4.0" height="4.0"/>
<rect x="547.87" y="241.01" width="4.0" height="4.0"/>
<rect x="547.89" y="241.14" width="4.0" height="4.0"/>
<rect x="547.91" y="241.25" width="4.0" height="4.0"/>
<rect x="547.93" y="241.34" width="4.0" height="4.0"/>
<rect x="547.94" y="241.41" width="4.0" height="4.0"/>
<rect x="547.95" y="241.47" width="4.0" height="4.0"/>
<rect x="547.96" y="241.52" width="4.0" height="4.0"/>
<rect x="547.97" y="241.56" width="4.0" height="4.0"/>
<rect x="547.97" y="241.59" width="4.0" height="4.0"/>
<rect x="547.98" y="241.62" width="4.0" height="4.0"/>
<rect x="547.98" y="241.64" width="4.0" height="4.0"/>
<rect x="547.99" y="241.66" width="4.0" height="4.0"/>
<rect x="547.99" y="241.68" width="4.0" height="4.0"/>
<rect x="547.99" y="241.69" width="4.0" height="4.0"/>
<rect x="547.99" y="241.70" width="4.0" height="4.0"/>
<rect x="547.99" y="241.71" width="4.0" height="4.0"/>
<rect x="548.00" y="241.72" width="4.0" height="4.0"/>
<rect x="548.00" y="241.72" width="4.0" height="4.0"/>
<rect x="548.00" y="241.73" width="4.0" height="4.0"/>
<rect x="548.00" y="241.73" width="4.0" height="4.0"/>
<rect x="548.00" y="241.73" width="4.0" height="4.0"/>
<rect x="548.00" y="241.74" width="4.0" height="4.0"/>
<rect x="548.00" y="241.74" width="4.0" height="4.0"/>
<rect x="548.00" y="241.74" width="4.0" height="4.0"/>
<rect x="548.00" y="241.74" width="4.0" height="4.0"/>
<rect x="548.00" y="241.74" width="4.0" height="4.0"/>
<rect x="548.00" y="241.75" width="4.0" height="4.0"/>
<rect x="548.00" y="241.75" width="4.0" height="4.0"/>
<rect x="548.00" y="241.75" width="4.0" height="4.0"/>
<rect x="548.00" y="241.75" width="4.0" height="4.0"/>
<rect x="548.00" y="241.75" width="4.0" height="4.0"/>
<rect x="548.00" y="241.75" width="4.0" height="4.0"/>
<rect x="548.00" y="241.75" width="4.0" height="4.0"/>
<rect x="548.00" y="241.75" width="4.0" height="4.0"/>
<rect x="548.00" y="241.75" width="4.0" height="4.0"/>
<rect x="548.00" y="241.75" width="4.0" height="4.0"/>
<rect x="548.00" y="241.75" width="4.0" height="4.0"/>
<rect x="548.00" y="241.75" width="4.0" height="4.0"/>
<rect x="548.00" y="241.75" width="4.0" height="4.0"/>
<rect x="548.00" y="241.75" width="4.0" height="4.0"/>
<rect x="548.00" y="241.75" width="4.0" height="4.0"/>
<rect x="548.00" y="241.75" width="4.0" height="4.0"/>
<rect x="486.11" y="196.05" width="4.0" height="4.0"/>
<rect x="492.44" y="193.62" width="4.0" height="4.0"/>
<rect x="499.16" y="192.62" width="4.0" height="4.0"/>
<rect x="505.92" y="193.16" width="4.0" height="4.0"/>
<rect x="512.35" y="195.15" width="4.0" height="4.0"/>
<rect x="518.16" y="198.30" width="4.0" height="4.0"/>
<rect x="523.19" y="202.22" width="4.0" height="4.0"/>
<rect x="527.39" y="206.52" width="4.0" height="4.0"/>
<rect x="530.79" y="210.89" width="4.0" height="4.0"/>
<rect x="533.48" y="215.07" width="4.0" height="4.0"/>
<rect x="535.59" y="218.94" width="4.0" height="4.0"/>
<rect x="537.23" y="222.40" width="4.0" height="4.0"/>
<rect x="538.49" y="225.44" width="4.0" height="4.0"/>
<rect x="539.46" y="228.07" width="4.0" height="4.0"/>
<rect x="540.21" y="230.32" width="4.0" height="4.0"/>
<rect x="540.79" y="232.23" width="4.0" height="4.0"/>
<rect x="541.24" y="233.84" width="4.0" height="4.0"/>
<rect x="541.59" y="235.19" width="4.0" height="4.0"/>
<rect x="541.86" y="236.31" width="4.0" height="4.0"/>
<rect x="542.08" y="237.25" width="4.0" height="4.0"/>
<rect x="542.26" y="238.03" width="4.0" height="4.0"/>
<rect x="542.39" y="238.67" width="4.0" height="4.0"/>
<rect x="542.51" y="239.21" width="4.0" height="4.0"/>
<rect x="542.59" y="239.65" width="4.0" height="4.0"/>
<rect x="542.67" y="240.02" width="4.0" height="4.0"/>
<rect x="542.72" y="240.32" width="4.0" height="4.0"/>
<rect x="542.77" y="240.57" width="4.0" height="4.0"/>
<rect x="542.81" y="240.78" width="4.0" height="4.0"/>
<rect x="542.84" y="240.95" width="4.0" height="4.0"/>
<rect x="542.87" y="241.09" width="4.0" height="4.0"/>
<rect x="542.89" y="241.21" width="4.0" height="4.0"/>
<rect x="542.91" y="241.30" width="4.0" height="4.0"/>
<rect x="542.92" y="241.38" width="4.0" height="4.0"/>
<rect x="542.93" y="241.45" width="4.0" height="4.0"/>
<rect x="542.94" y="241.50" width="4.0" height="4.0"/>
<rect x="542.95" y="241.54" width="4.0" height="4.0"/>
<rect x="542.96" y="241.58" width="4.0" height="4.0"/>
<rect x="542.96" y="241.61" width="4.0" height="4.0"/>
<rect x="542.97" y="241.63" width="4.0" height="4.0"/>
<rect x="542.97" y="241.65" width="4.0" height="4.0"/>
<rect x="542.97" y="241.67" width="4.0" height="4.0"/>
<rect x="542.97" y="241.69" width="4.0" height="4.0"/>
<rect x="542.98" y="241.70" width="4.0" height="4.0"/>
<rect x="542.98" y="241.71" width="4.0" height="4.0"/>
<rect x="542.98" y="241.71" width="4.0" height="4.0"/>
<rect x="542.98" y="241.72" width="4.0" height="4.0"/>
<rect x="542.98" y="241.73" width="4.0" height="4.0"/>
<rect x="542.98" y="241.73" width="4.0" height="4.0"/>
<rect x="542.98" y="241.73" width="4.0" height="4.0"/>
<rect x="542.98" y="241.74" width="4.0" height="4.0"/>
<rect x="542.98" y="241.74" width="4.0" height="4.0"/>
<rect x="542.98" y="241.74" width="4.0" height="4.0"/>
<rect x="542.98" y="241.74" width="4.0" height="4.0"/>
<rect x="542.98" y="241.74" width="4.0" height="4.0"/>
<rect x="542.98" y="241.74" width="4.0" height="4.0"/>
<rect x="542.98" y="241.75" width="4.0" height="4.0"/>
<rect x="542.98" y="241.75" width="4.0" height="4.0"/>
<rect x="542.98" y="241.75" width="4.0" height="4.0"/>
<rect x="542.98" y="241.75" width="4.0" height="4.0"/>
<rect x="542.99" y="241.75" width="4.0" height="4.0"/>
<rect x="542.99" y="241.75" width="4.0" height="4.0"/>
<rect x="542.99" y="241.75" width="4.0" height="4.0"/>
<rect x="542.99" y="241.75" width="4.0" height="4.0"/>
<rect x="542.99" y="241.75" width="4.0" height="4.0"/>
<rect x="542.99" y="241.75" width="4.0" height="4.0"/>
<rect x="542.99" y="241.75" width="4.0" height="4.0"/>
<rect x="542.99" y="241.75" width="4.0" height="4.0"/>
<rect x="542.99" y="241.75" width="4.0" height="4.0"/>
<rect x="542.99" y="241.75" width="4.0" height="4.0"/>
<rect x="542.99" y="241.75" width="4.0" height="4.0"/>
<rect x="542.99" y="241.75" width="4.0" height="4.0"/>
<rect x="485.69" y="204.76" width="4.0" height="4.0"/>
<rect x="490.85" y="204.24" width="4.0" height="4.0"/>
<rect x="495.98" y="204.90" width="4.0" height="4.0"/>
<rect x="500.80" y="206.63" width="4.0" height="4.0"/>
<rect x="505.12" y="209.18" width="4.0" height="4.0"/>
<rect x="508.83" y="212.26" width="4.0" height="4.0"/>
<rect x="511.90" y="215.57" width="4.0" height="4.0"/>
<rect x="514.37" y="218.88" width="4.0" height="4.0"/>
<rect x="516.33" y="222.03" width="4.0" height="4.0"/>
<rect x="517.85" y="224.92" width="4.0" height="4.0"/>
<rect x="519.04" y="227.50" width="4.0" height="4.0"/>
<rect x="519.95" y="229.75" width="4.0" height="4.0"/>
<rect x="520.65" y="231.70" width="4.0" height="4.0"/>
<rect x="521.19" y="233.36" width="4.0" height="4.0"/>
<rect x="521.61" y="234.76" width="4.0" height="4.0"/>
<rect x="521.94" y="235.94" width="4.0" height="4.0"/>
<rect x="522.19" y="236.93" width="4.0" height="4.0"/>
<rect x="522.39" y="237.76" width="4.0" height="4.0"/>
<rect x="522.55" y="238.45" width="4.0" height="4.0"/>
<rect x="522.68" y="239.02" width="4.0" height="4.0"/>
<rect x="522.78" y="239.50" width="4.0" height="4.0"/>
<rect x="522.86" y="239.89" width="4.0" height="4.0"/>
<rect x="522.92" y="240.21" width="4.0" height="4.0"/>
<rect x="522.98" y="240.48" width="4.0" height="4.0"/>
<rect x="523.02" y="240.70" width="4.0" height="4.0"/>
<rect x="523.05" y="240.89" width="4.0" height="4.0"/>
<rect x="523.08" y="241.04" width="4.0" height="4.0"/>
<rect x="523.10" y="241.16" width="4.0" height="4.0"/>
<rect x="523.12" y="241.27" width="4.0" height="4.0"/>
<rect x="523.14" y="241.35" width="4.0" height="4.0"/>
<rect x="523.15" y="241.42" width="4.0" height="4.0"/>
<rect x="523.16" y="241.48" width="4.0" height="4.0"/>
<rect x="523.17" y="241.53" width="4.0" height="4.0"/>
<rect x="523.18" y="241.57" width="4.0" height="4.0"/>
<rect x="523.18" y="241.60" width="4.0" height="4.0"/>
<rect x="523.19" y="241.63" width="4.0" height="4.0"/>
<rect x="523.19" y="241.65" width="4.0" height="4.0"/>
<rect x="523.19" y="241.67" width="4.0" height="4.0"/>
<rect x="523.20" y="241.68" width="4.0" height="4.0"/>
<rect x="523.20" y="241.69" width="4.0" height="4.0"/>
<rect x="523.20" y="241.70" width="4.0" height="4.0"/>
<rect x="523.20" y="241.71" width="4.0" height="4.0"/>
<rect x="523.20" y="241.72" width="4.0" height="4.0"/>
<rect x="523.20" y="241.72" width="4.0" height="4.0"/>
<rect x="523.20" y="241.73" width="4.0" height="4.0"/>
<rect x="523.21" y="241.73" width="4.0" height="4.0"/>
<rect x="523.21" y="241.74" width="4.0" height="4.0"/>
<rect x="523.21" y="241.74" width="4.0" height="4.0"/>
<rect x="523.21" y="241.74" width="4.0" height="4.0"/>
<rect x="523.21" y="241.74" width="4.0" height="4.0"/>
<rect x="523.21" y="241.74" width="4.0" height="4.0"/>
<rect x="523.21" y="241.74" width="4.0" height="4.0"/>
<rect x="523.21" y="241.75" width="4.0" height="4.0"/>
<rect x="523.21" y="241.75" width="4.0" height="4.0"/>
<rect x="523.21" y="241.75" width="4.0" height="4.0"/>
<rect x="523.21" y="241.75" width="4.0" height="4.0"/>
<rect x="523.21" y="241.75" width="4.0" height="4.0"/>
<rect x="523.21" y="241.75" width="4.0" height="4.0"/>
<rect x="523.21" y="241.75" width="4.0" height="4.0"/>
<rect x="523.21" y="241.75" width="4.0" height="4.0"/>
<rect x="523.21" y="241.75" width="4.0" height="4.0"/>
<rect x="523.21" y="241.75" width="4.0" height="4.0"/>
<rect x="523.21" y="241.75" width="4.0" height="4.0"/>
<rect x="523.21" y="241.75" width="4.0" height="4.0"/>
<rect x="523.21" y="241.75" width="4.0" height="4.0"/>
<rect x="523.21" y="241.75" width="4.0" height="4.0"/>
<rect x="523.21" y="241.75" width="4.0" height="4.0"/>
<rect x="523.21" y="241.75" width="4.0" height="4.0"/>
<rect x="523.21" y="241.75" width="4.0" height="4.0"/>
<rect x="523.21" y="241.75" width="4.0" height="4.0"/>
<rect x="523.21" y="241.75" width="4.0" height="4.0"/>
</g>
<g stroke="#222" stroke-width="1.3" fill="none">
<rect x="461.5" y="10.2" width="319.5" height="257.2"/>
<line x1="461.50" y1="267.4" x2="461.50" y2="272.00"/>
<line x1="509.43" y1="267.4" x2="509.43" y2="269.80"/>
<line x1="557.35" y1="267.4" x2="557.35" y2="272.00"/>
<line x1="605.27" y1="267.4" x2="605.27" y2="269.80"/>
<line x1="653.20" y1="267.4" x2="653.20" y2="272.00"/>
<line x1="701.12" y1="267.4" x2="701.12" y2="269.80"/>
<line x1="749.05" y1="267.4" x2="749.05" y2="272.00"/>
<line x1="456.70" y1="243.75" x2="461.5" y2="243.75"/>
<line x1="459.10" y1="196.99" x2="461.5" y2="196.99"/>
<line x1="456.70" y1="150.23" x2="461.5" y2="150.23"/>
<line x1="459.10" y1="103.47" x2="461.5" y2="103.47"/>
<line x1="456.70" y1="56.71" x2="461.5" y2="56.71"/>
</g>
<g font-family="Liberation Sans, sans-serif" font-size="11" fill="#111" text-anchor="end">
<text x="453.0" y="247.35" transform="matrix(1 0 0 1.04 0 -9.894)">0.0</text>
<text x="453.4" y="154.13" transform="matrix(1 0 0 1.04 0 -6.165)">−2.0×10<tspan font-size="6.7" dx="0.3" dy="-3.9">4</tspan></text>
<text x="453.4" y="60.61" transform="matrix(1 0 0 1.04 0 -2.424)">−4.0×10<tspan font-size="6.7" dx="0.3" dy="-3.9">4</tspan></text>
</g>
<g font-family="Liberation Sans, sans-serif" font-size="11" fill="#111">
<text x="453.8" y="284.7" transform="matrix(1 0 0 1.04 0 -11.388)">0.0</text>
<text x="538.70" y="286.0" transform="matrix(1 0 0 1.04 0 -11.440)">3.0×10<tspan font-size="6.7" dx="0.3" dy="-3.9">4</tspan></text>
<text x="634.55" y="286.0" transform="matrix(1 0 0 1.04 0 -11.440)">6.0×10<tspan font-size="6.7" dx="0.3" dy="-3.9">4</tspan></text>
<text x="730.40" y="286.0" transform="matrix(1 0 0 1.04 0 -11.440)">9.0×10<tspan font-size="6.7" dx="0.3" dy="-3.9">4</tspan></text>
</g>
<text font-family="Liberation Sans, sans-serif" font-size="13" fill="#111" x="606.6" y="307.3" transform="matrix(1 0 0 1.04 0 -12.292)">Z'<tspan font-family="Liberation Serif, serif" font-size="14.5">(Ω)</tspan></text>
<text font-family="Liberation Sans, sans-serif" font-size="13" fill="#111" transform="translate(419.4,118.2) rotate(-90) scale(1,1.04)">Z''<tspan font-family="Liberation Serif, serif" font-size="13.6">(Ω)</tspan></text>
<text font-family="Liberation Sans, sans-serif" font-size="13.2" fill="#111" x="571.3" y="26.8" transform="matrix(1 0 0 1.04 0 -1.072)">CuO / SnO<tspan font-size="9" dx="0.8" dy="3.2">x</tspan></text>
<g fill="none" stroke="#1a1a1a" stroke-width="1.0"><circle cx="709.40" cy="20.90" r="2.5"/></g>
<rect x="706.5" y="34.5" width="5" height="5" fill="#fff" stroke="#ff2424" stroke-width="1"/>
<text font-family="Liberation Sans, sans-serif" font-size="11.6" fill="#111" x="726.8" y="24.9" transform="matrix(1 0 0 1.04 0 -0.996)">Air</text>
<text font-family="Liberation Sans, sans-serif" font-size="11.8" fill="#111" x="726.1" y="41.2" transform="matrix(1 0 0 1.04 0 -1.648)">NO<tspan font-size="8.3" dx="0.6" dy="3.3">2</tspan></text>
<text font-family="Liberation Sans, sans-serif" font-size="13" fill="#111" x="672.2" y="86" transform="matrix(1 0 0 1.04 0 -3.440)">Air</text>
<g font-family="Liberation Sans, sans-serif" fill="#111"><text font-size="10.3" x="467.5" y="225.3" transform="matrix(1 0 0 1.04 0 -9.012)">10</text><text font-size="6.3" x="478.7" y="220.8" transform="matrix(1 0 0 1.04 0 -8.832)">6</text><text font-size="10.3" x="482.2" y="225.3" transform="matrix(1 0 0 1.04 0 -9.012)">Hz</text></g>
<g font-family="Liberation Sans, sans-serif" fill="#111"><text font-size="10.3" x="706.1" y="247.7" transform="matrix(1 0 0 1.04 0 -9.908)">10</text><text font-size="6.3" x="717.3" y="243.0" transform="matrix(1 0 0 1.04 0 -9.720)">-1</text><text font-size="10.3" x="723.2" y="247.7" transform="matrix(1 0 0 1.04 0 -9.908)">Hz</text></g>
<g font-family="Liberation Sans, sans-serif" font-size="7.7" fill="#222">
<text x="494.8" y="256.7" transform="matrix(1 0 0 1.04 0 -10.268)">5ppm</text>
<text x="521.0" y="256.7" transform="matrix(1 0 0 1.04 0 -10.268)">2.5ppm</text>
<text x="549.4" y="256.7" transform="matrix(1 0 0 1.04 0 -10.268)">1.5ppm</text>
<text x="577.9" y="256.7" transform="matrix(1 0 0 1.04 0 -10.268)">1ppm</text>
<text x="599.3" y="256.7" transform="matrix(1 0 0 1.04 0 -10.268)">0.5ppm</text>
</g>
<line x1="486" y1="260.5" x2="627.3" y2="260.5" stroke="#111" stroke-width="1.1"/>
<path d="M480.6 260.5 L489 258.3 L489 262.7 Z" fill="#000"/>
<text font-family="Liberation Sans, sans-serif" font-size="13.4" fill="#111" x="630.2" y="257.3" transform="matrix(1 0 0 1.04 0 -10.292)">NO<tspan font-size="8.6" dx="0.7" dy="3.5">2</tspan></text>
<text font-family="Liberation Serif, serif" font-size="17.5" fill="#111" x="189.6" y="353.6" text-anchor="middle">(<tspan font-weight="bold">c</tspan>)</text>
<text font-family="Liberation Serif, serif" font-size="17.5" fill="#111" x="599" y="353.8" text-anchor="middle">(<tspan font-weight="bold">d</tspan>)</text>
</svg>
</body></html>
